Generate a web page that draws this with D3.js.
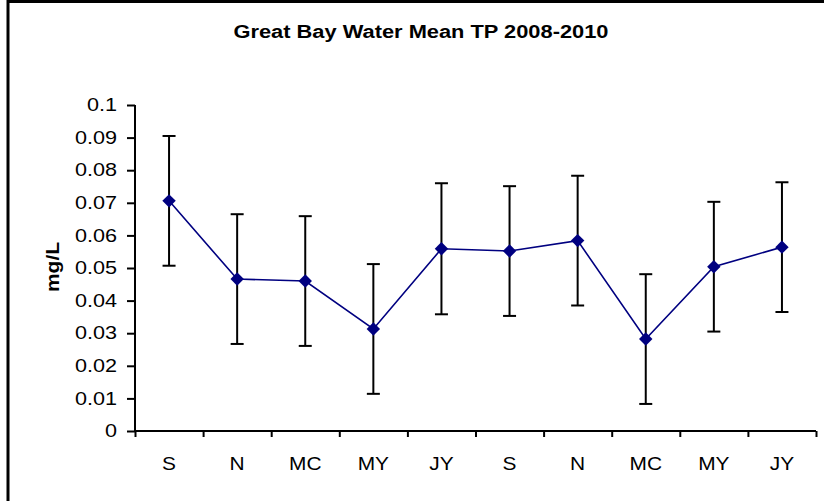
<!DOCTYPE html>
<html>
<head>
<meta charset="utf-8">
<script src="https://cdn.jsdelivr.net/npm/d3@7"></script>
<style>
  body { margin: 0; background: #fff; }
  svg { display: block; }
  text { font-family: "Liberation Sans", Arial, sans-serif; fill: #000; }
</style>
</head>
<body>
<svg id="chart" width="824" height="501"></svg>
<script>
const categories = ["S", "N", "MC", "MY", "JY", "S", "N", "MC", "MY", "JY"];
const meanTP = [0.0706, 0.0466, 0.0460, 0.0313, 0.0559, 0.0552, 0.0584, 0.0282, 0.0504, 0.0564];
const errTP  = [0.0199, 0.0199, 0.0199, 0.0199, 0.0201, 0.0199, 0.0199, 0.0199, 0.0199, 0.0199];
const yTicks = [0, 0.01, 0.02, 0.03, 0.04, 0.05, 0.06, 0.07, 0.08, 0.09, 0.1];
const yTickLabels = ["0", "0.01", "0.02", "0.03", "0.04", "0.05", "0.06", "0.07", "0.08", "0.09", "0.1"];
const titleText = "Great Bay Water Mean TP 2008-2010";
const yTitle = "mg/L";

const svg = d3.select("#chart");
const plotL = 135, plotR = 816, plotT = 105, plotB = 431;
const stretchY = 1.2, stretchX = 1.1;

// outer chart border (clipped on right/bottom)
svg.append("path")
  .attr("d", `M8,830 L8,1.5 L830,1.5`)
  .attr("fill", "none").attr("stroke", "#000").attr("stroke-width", 3);

const idx = categories.map((d, i) => i);
const x = d3.scaleBand().domain(idx).range([plotL, plotR]);
const xEdge = d3.scaleLinear().domain([0, categories.length]).range([plotL, plotR]);
const y = d3.scaleLinear().domain([0, 0.1]).range([plotB, plotT]);

// title
svg.append("text")
  .attr("x", 421).attr("y", 38)
  .attr("text-anchor", "middle")
  .attr("font-size", 18).attr("font-weight", "bold")
  .attr("textLength", 375).attr("lengthAdjust", "spacingAndGlyphs")
  .text(titleText);

// y axis
const yAxis = svg.append("g")
  .attr("transform", `translate(${plotL},0)`)
  .call(d3.axisLeft(y).tickValues(yTicks).tickSize(8).tickPadding(7)
    .tickFormat((d, i) => yTickLabels[i]));
yAxis.select(".domain").attr("stroke", "#000").attr("stroke-width", 2).attr("d", `M0,${plotT}V${plotB}`);
yAxis.selectAll(".tick line").attr("stroke", "#000").attr("stroke-width", 2);
yAxis.selectAll(".tick text")
  .attr("font-size", 18).attr("font-family", "Liberation Sans, Arial, sans-serif").attr("fill", "#000")
  .attr("transform", `scale(${stretchY},1)`);

// x axis boundary ticks
const xAxis = svg.append("g")
  .attr("transform", `translate(0,${plotB})`)
  .call(d3.axisBottom(xEdge).tickValues(d3.range(categories.length + 1)).tickSize(6).tickFormat(""));
xAxis.select(".domain").attr("stroke", "#000").attr("stroke-width", 2).attr("d", `M${plotL},0H${plotR}`);
xAxis.selectAll(".tick line").attr("stroke", "#000").attr("stroke-width", 2);

// x labels
const xLab = svg.append("g")
  .attr("transform", `translate(0,${plotB})`)
  .call(d3.axisBottom(x).tickSize(0).tickPadding(26).tickFormat(i => categories[i]));
xLab.select(".domain").remove();
xLab.selectAll(".tick text")
  .attr("font-size", 19).attr("font-family", "Liberation Sans, Arial, sans-serif").attr("fill", "#000")
  .attr("transform", `scale(${stretchX},1)`);

// y title
svg.append("text")
  .attr("transform", `translate(59,267) rotate(-90)`)
  .attr("text-anchor", "middle")
  .attr("font-size", 18).attr("font-weight", "bold")
  .attr("textLength", 50).attr("lengthAdjust", "spacingAndGlyphs")
  .text(yTitle);

const cx = i => x(i) + x.bandwidth() / 2;

// error bars
const eb = svg.append("g").attr("stroke", "#000").attr("stroke-width", 2);
idx.forEach(i => {
  const hi = y(meanTP[i] + errTP[i]), lo = y(meanTP[i] - errTP[i]);
  eb.append("line").attr("x1", cx(i)).attr("x2", cx(i)).attr("y1", hi).attr("y2", lo);
  eb.append("line").attr("x1", cx(i) - 6.5).attr("x2", cx(i) + 6.5).attr("y1", hi).attr("y2", hi);
  eb.append("line").attr("x1", cx(i) - 6.5).attr("x2", cx(i) + 6.5).attr("y1", lo).attr("y2", lo);
});

// line
svg.append("path")
  .datum(idx)
  .attr("fill", "none").attr("stroke", "#000080").attr("stroke-width", 1.6)
  .attr("d", d3.line().x(i => cx(i)).y(i => y(meanTP[i])));

// markers
svg.append("g").selectAll("path")
  .data(idx).join("path")
  .attr("transform", i => `translate(${cx(i)},${y(meanTP[i])})`)
  .attr("d", d3.symbol().type(d3.symbolDiamond2).size(115))
  .attr("fill", "#000080");
</script>
</body>
</html>
